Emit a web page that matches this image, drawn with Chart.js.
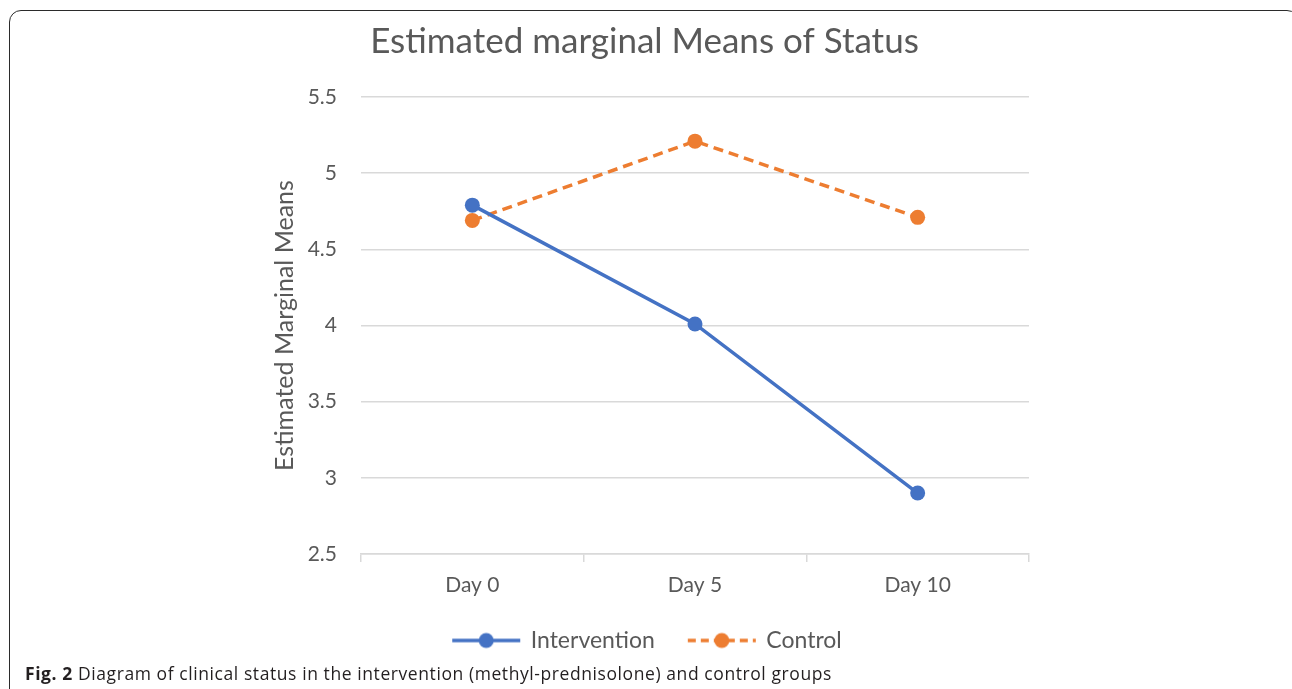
<!DOCTYPE html>
<html>
<head>
<meta charset="utf-8">
<script src="https://cdn.jsdelivr.net/npm/chart.js@4.4.1/dist/chart.umd.min.js"></script>
<style>
  html, body { margin: 0; padding: 0; background: #fff; }
  body { width: 1292px; height: 689px; position: relative; overflow: hidden; }
  #frame { position: absolute; left: 9px; top: 10px; width: 1290px; height: 720px;
           border: 1.5px solid #2b2b2b; border-radius: 12px; box-sizing: border-box; }
  #wrap { position: absolute; left: 0; top: 0; width: 1292px; height: 689px; }
  #caption { position: absolute; left: 25px; top: 661px; font-family: "Open Sans", sans-serif;
             font-size: 17.5px; color: #231f20; white-space: nowrap; letter-spacing: 0.58px; }
  #caption b { font-weight: 700; }
</style>
</head>
<body>
<div id="frame"></div>
<div id="wrap"><canvas id="c" width="1292" height="689"></canvas></div>
<div id="caption"><b>Fig. 2</b> Diagram of clinical status in the intervention (methyl-prednisolone) and control groups</div>
<script>
const categories = ["Day 0", "Day 5", "Day 10"];
const seriesNames = ["Intervention", "Control"];
const interventionValues = [4.79, 4.01, 2.90];
const controlValues = [4.69, 5.21, 4.71];
const yTicks = [2.5, 3, 3.5, 4, 4.5, 5, 5.5];

const FONT = "Lato, 'Open Sans', sans-serif";
const BLUE = "#4472C4";
const ORANGE = "#ED7D31";

function legendMarker(color, dashed) {
  const cv = document.createElement("canvas");
  cv.width = 86; cv.height = 18;
  const g = cv.getContext("2d");
  g.strokeStyle = color; g.lineWidth = 3.5;
  if (dashed) g.setLineDash([8, 5]);
  g.beginPath(); g.moveTo(12, 9); g.lineTo(80, 9); g.stroke();
  g.setLineDash([]);
  g.fillStyle = color;
  g.beginPath(); g.arc(46, 9, 7.5, 0, Math.PI * 2); g.fill();
  return cv;
}
const markers = [legendMarker(BLUE, false), legendMarker(ORANGE, true)];

new Chart(document.getElementById("c"), {
  type: "line",
  data: {
    labels: categories,
    datasets: [
      { label: seriesNames[0], data: interventionValues, borderColor: BLUE, backgroundColor: BLUE,
        borderWidth: 3.5, pointRadius: 7.5, pointHoverRadius: 7.5, pointBackgroundColor: BLUE, pointBorderWidth: 0, tension: 0 },
      { label: seriesNames[1], data: controlValues, borderColor: ORANGE, backgroundColor: ORANGE,
        borderWidth: 3.5, borderDash: [10, 6], pointRadius: 7.5, pointHoverRadius: 7.5, pointBackgroundColor: ORANGE, pointBorderWidth: 0, tension: 0 }
    ]
  },
  options: {
    responsive: false,
    animation: false,
    layout: { padding: { left: 260, right: 263, top: 21, bottom: 27 } },
    plugins: {
      title: { display: true, text: "Estimated marginal Means of Status", color: "#595959",
               font: { family: FONT, size: 35, weight: "normal" }, padding: { top: 0, bottom: 34 } },
      legend: { position: "bottom",
        labels: { color: "#595959", font: { family: FONT, size: 23 }, usePointStyle: true,
                  pointStyleWidth: 72, boxHeight: 18, padding: 28,
                  generateLabels: (chart) => chart.data.datasets.map((ds, i) => ({
                    text: ds.label, pointStyle: markers[i], fillStyle: ds.borderColor,
                    strokeStyle: ds.borderColor, lineWidth: 0, hidden: false, datasetIndex: i, fontColor: "#595959"
                  })) } },
      tooltip: { enabled: false }
    },
    scales: {
      x: {
        offset: true,
        afterFit: (s) => { s.height = 47; },
        grid: { offset: true, drawOnChartArea: false, drawTicks: true, tickLength: 8, color: "#d9d9d9", lineWidth: 1.5 },
        border: { display: true, color: "#d9d9d9", width: 1.5 },
        ticks: { color: "#595959", font: { family: FONT, size: 21 }, padding: 11 }
      },
      y: {
        min: 2.5, max: 5.5,
        afterBuildTicks: (s) => { s.ticks = yTicks.map(v => ({ value: v })); },
        afterFit: (s) => { s.width = 101; },
        grid: { color: "#d9d9d9", lineWidth: 1.5, drawTicks: false },
        border: { display: false },
        ticks: { color: "#595959", font: { family: FONT, size: 21 }, padding: 24, callback: (v) => String(v) },
        title: { display: true, text: "Estimated Marginal Means", color: "#595959",
                 font: { family: FONT, size: 25 }, padding: { top: 10, bottom: 0 } }
      }
    }
  }
});
</script>
</body>
</html>
